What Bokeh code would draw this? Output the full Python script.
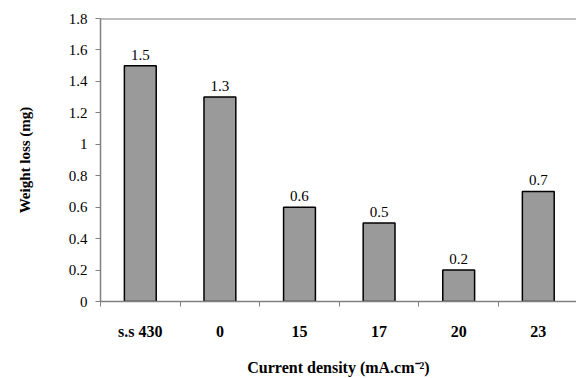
from bokeh.plotting import figure
from bokeh.models import ColumnDataSource, FixedTicker, CustomJSTickFormatter, Range1d, Span
from bokeh.core.properties import value
from bokeh.embed import file_html
from bokeh.resources import INLINE

categories = ["s.s 430", "0", "15", "17", "20", "23"]
weight_loss = [1.5, 1.3, 0.6, 0.5, 0.2, 0.7]
value_labels = ["1.5", "1.3", "0.6", "0.5", "0.2", "0.7"]
y_ticks = [0, 0.2, 0.4, 0.6, 0.8, 1.0, 1.2, 1.4, 1.6, 1.8]

xc = [i + 0.5 for i in range(len(categories))]
src = ColumnDataSource(dict(x=xc, top=weight_loss, lab=value_labels))

FONT = "Liberation Serif"

p = figure(width=576, height=378, output_backend="svg", toolbar_location=None,
           x_range=Range1d(0, 5.98), y_range=Range1d(0, 1.8),
           min_border_left=100, min_border_right=0, min_border_top=18, min_border_bottom=10)
p.outline_line_color = None
p.xgrid.visible = False
p.ygrid.visible = False
p.background_fill_color = "white"
p.border_fill_color = "white"

p.vbar(x="x", top="top", width=0.4, bottom=0, source=src,
       fill_color="#9a9a9a", line_color="black", line_width=1.5)
p.text(x="x", y="top", text="lab", source=src, text_align="center",
       text_baseline="bottom", y_offset=-6, text_font=value(FONT),
       text_font_size="15px", text_color="black")

p.add_layout(Span(location=1.8, dimension="width", line_color="#808080", line_width=2))

xa = p.xaxis[0]
xa.ticker = FixedTicker(ticks=xc, minor_ticks=list(range(0, 7)))
xa.major_label_overrides = {v: c for v, c in zip(xc, categories)}
xa.major_tick_line_color = None
xa.major_tick_out = 0
xa.minor_tick_in = 0
xa.minor_tick_out = 5
xa.minor_tick_line_color = "#808080"
xa.axis_line_color = "#808080"
xa.axis_line_width = 1.5
xa.major_label_standoff = 16
xa.major_label_text_font = FONT
xa.major_label_text_font_style = "bold"
xa.major_label_text_font_size = "16px"
xa.major_label_text_color = "black"
xa.axis_label = "Current density (mA.cm\u207b\u00b2)"
xa.axis_label_text_font = FONT
xa.axis_label_text_font_style = "bold"
xa.axis_label_text_font_size = "16px"
xa.axis_label_standoff = 16
xa.axis_label_text_color = "black"

ya = p.yaxis[0]
ya.ticker = FixedTicker(ticks=y_ticks, minor_ticks=[])
ya.formatter = CustomJSTickFormatter(code="return tick.toFixed(1).replace(/\\.0$/, '');")
ya.major_tick_in = 0
ya.major_tick_out = 5
ya.major_tick_line_color = "#808080"
ya.axis_line_color = "#808080"
ya.axis_line_width = 1.5
ya.major_label_standoff = 8
ya.major_label_text_font = FONT
ya.major_label_text_font_size = "15px"
ya.major_label_text_color = "black"
ya.axis_label = "Weight loss (mg)"
ya.axis_label_text_font = FONT
ya.axis_label_text_font_style = "bold"
ya.axis_label_text_font_size = "15px"
ya.axis_label_standoff = 33
ya.axis_label_text_color = "black"

open("out.html", "w").write(file_html(p, INLINE))
